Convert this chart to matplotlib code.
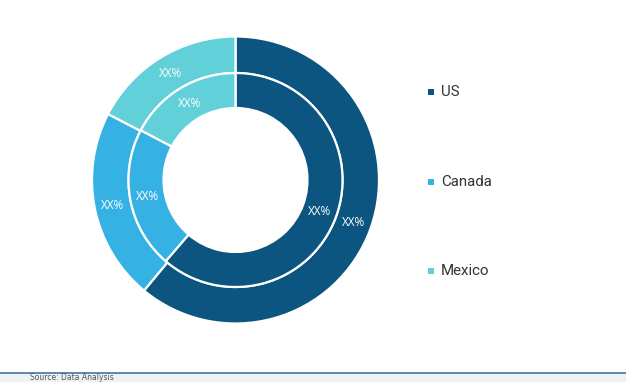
import matplotlib
matplotlib.use("Agg")
import matplotlib.pyplot as plt
from matplotlib.patches import Rectangle

categories = ["US", "Canada", "Mexico"]
outer_values = [61.0, 21.6, 17.4]
inner_values = [61.3, 21.4, 17.3]
label_text = "XX%"
colors = ["#0b5580", "#36b1e4", "#62d0d9"]

W, H = 626, 382
fig = plt.figure(figsize=(W / 100, H / 100), dpi=100)

# pie axes: 300x300 px box centred at (235.5, 180) in pixel coords (top-left origin)
cx, cy, half = 235.5, 180.0, 150.0
ax = fig.add_axes([(cx - half) / W, (H - cy - half) / H, 2 * half / W, 2 * half / H])
ax.set_xlim(-half, half)
ax.set_ylim(-half, half)
ax.axis("off")

R_out, R_mid, R_in = 143.5, 107.0, 72.0
wedge_kw = dict(edgecolor="white", linewidth=1.6)
txt_kw = dict(color="white", fontsize=8.5, ha="center", va="center", family="Open Sans")

ax.pie(outer_values, radius=R_out, colors=colors, startangle=90, counterclock=False,
       wedgeprops=dict(width=R_out - R_mid, **wedge_kw), labels=[label_text] * 3,
       labeldistance=(R_out + R_mid) / 2 / R_out, textprops=txt_kw, frame=False)
ax.pie(inner_values, radius=R_mid, colors=colors, startangle=90, counterclock=False,
       wedgeprops=dict(width=R_mid - R_in, **wedge_kw), labels=[label_text] * 3,
       labeldistance=(R_mid + R_in) / 2 / R_mid, textprops=txt_kw, frame=False)
for t in ax.texts:
    t.set_horizontalalignment("center")
ax.set_xlim(-half, half)
ax.set_ylim(-half, half)
ax.set_aspect("auto")

# legend
legend_y = [92, 182, 271]
for name, col, y in zip(categories, colors, legend_y):
    fig.add_artist(Rectangle(((428) / W, (H - y - 3) / H), 6 / W, 6 / H,
                             transform=fig.transFigure, facecolor=col, edgecolor="none"))
    fig.text(441 / W, (H - y) / H, name, fontsize=10.8, color="#333333",
             ha="left", va="center", family="Roboto")

# bottom strip
fig.add_artist(Rectangle((0, 0), 1, 9.5 / H, transform=fig.transFigure,
                         facecolor="#eef2f5", edgecolor="none"))
fig.add_artist(plt.Line2D([0, 1], [9.5 / H, 9.5 / H], transform=fig.transFigure,
                          color="#4d7197", linewidth=1.2))
fig.text(30 / W, 0.5 / H, "Source: Data Analysis", fontsize=5.5, color="#555555",
         ha="left", va="bottom")

fig.savefig("out.png", dpi=100)
